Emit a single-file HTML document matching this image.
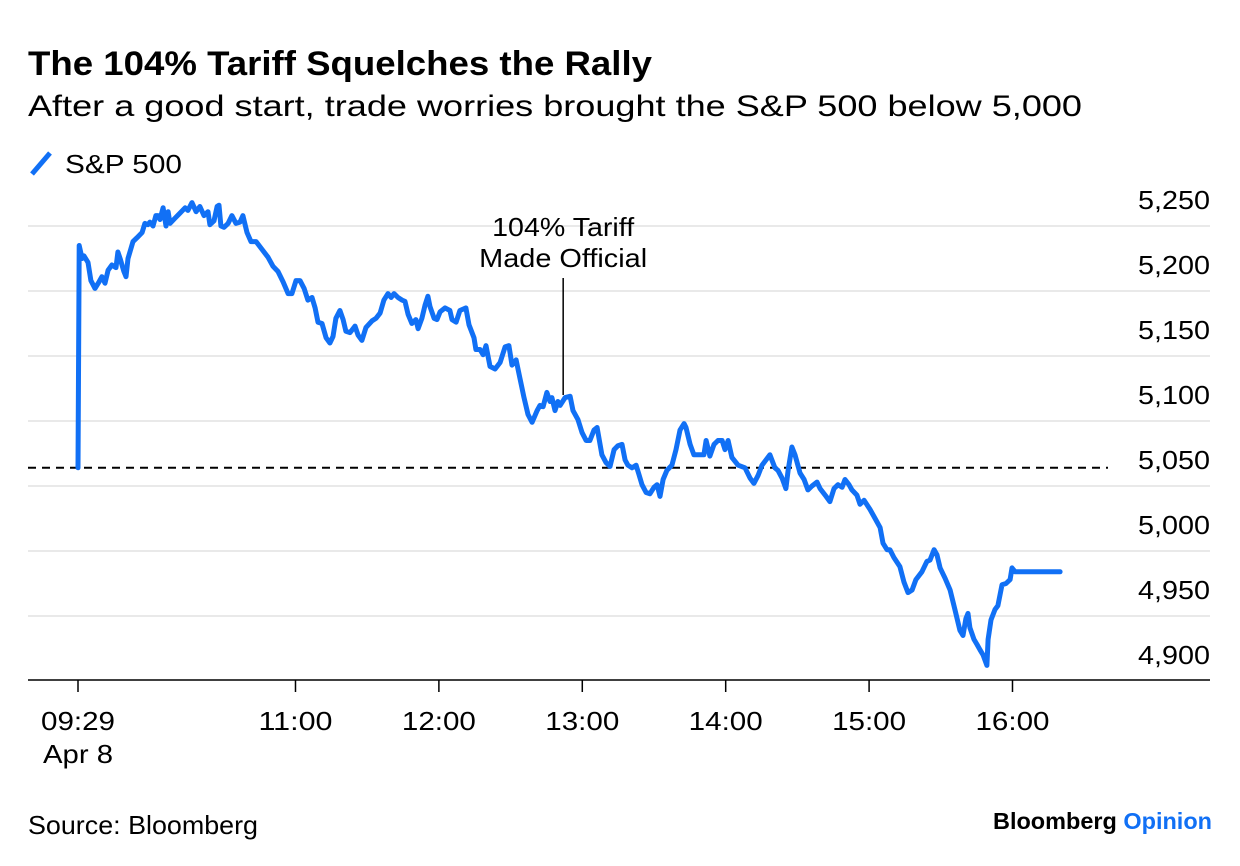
<!DOCTYPE html>
<html><head><meta charset="utf-8"><style>
html,body{margin:0;padding:0;background:#fff;}
svg{display:block;font-family:"Liberation Sans",sans-serif;}
</style></head><body>
<svg id="chart" width="1240" height="866" viewBox="0 0 1240 866" xmlns="http://www.w3.org/2000/svg">
<text x="28" y="75" font-size="34" font-weight="bold" fill="#000" textLength="624" lengthAdjust="spacingAndGlyphs">The 104% Tariff Squelches the Rally</text>
<text x="28" y="116" font-size="30" fill="#000" textLength="1054" lengthAdjust="spacingAndGlyphs">After a good start, trade worries brought the S&amp;P 500 below 5,000</text>
<g>
<line x1="32" y1="174" x2="50" y2="153" stroke="#1170f5" stroke-width="5"/>
<text x="65" y="173" font-size="26" fill="#000" textLength="117" lengthAdjust="spacingAndGlyphs">S&amp;P 500</text>
</g>
<g id="grid"></g>
<g id="yticks"></g>
<line id="refline" x1="28" x2="1108" stroke="#000" stroke-width="2" stroke-dasharray="8,6"/>
<line x1="28" y1="680" x2="1210" y2="680" stroke="#000" stroke-width="1.5"/>
<g id="xticks"></g>
<g>
<line id="annLine" y1="278" stroke="#000" stroke-width="1.5"/>
<text id="ann1" y="236" font-size="26" text-anchor="middle" fill="#000" textLength="142" lengthAdjust="spacingAndGlyphs">104% Tariff</text>
<text id="ann2" y="267" font-size="26" text-anchor="middle" fill="#000" textLength="168" lengthAdjust="spacingAndGlyphs">Made Official</text>
</g>
<path id="series" fill="none" stroke="#1170f5" stroke-width="5" stroke-linejoin="round" stroke-linecap="round"/>
<text x="28" y="834" font-size="26" fill="#000" textLength="230" lengthAdjust="spacingAndGlyphs">Source: Bloomberg</text>
<text x="1212" y="829" font-size="23" font-weight="bold" text-anchor="end" textLength="219" lengthAdjust="spacingAndGlyphs" fill="#000">Bloomberg <tspan fill="#1170f5">Opinion</tspan></text>
</svg>
<script>
// minutes since 09:29
const times = [0,0.5,1.7,2.5,4.2,5.4,7.1,8.8,10,11.3,12.6,14.2,15.9,16.7,17.6,19.2,20.1,20.9,23,24.7,26.8,28,29.3,30.1,31.4,32.6,33.5,34.3,35.6,36.8,37.7,38.5,40.6,42.7,44.8,46,47.7,49.4,51,52.7,54.4,55.2,56.9,58.2,59,59.8,61.1,62.8,64.4,66.1,67.8,69,70.7,72.4,74.5,77,79.5,81.6,83.7,85.8,87.9,89.5,91.2,92.9,94.6,96.2,97.9,99.2,100.4,102.1,103.8,105.4,106.7,107.9,109.6,110.9,112.1,113.8,115.9,117.2,118.8,120.5,123,124.7,126.4,128,129.7,131,132.2,133.9,135.6,136.8,138.1,139.7,141.4,142.3,143.9,145.2,146.4,147.3,149,150.2,151.5,153.6,155.6,156.5,158.2,159.8,162.3,163.6,165.7,166.5,168.2,169.5,170.7,172.4,174.5,176.6,178.7,180.3,181.6,183.3,184.9,186.6,188.3,190,192.1,193.3,194.6,196.2,197.5,198.3,199.6,200.8,201.7,203.8,205.9,207.1,209.2,210.9,212.6,214.2,215.9,217.2,219.2,220.9,222.6,224.3,225.9,227.6,228.9,230.1,231.8,233.5,234.7,236,237.7,239.3,241,242.3,243.5,244.8,246.4,248.5,250.2,251.9,253.6,254.4,256.1,257.7,260.3,261.9,262.8,264.4,266.1,267.8,269.5,270.7,272,273.6,276.2,279.1,281.2,282.8,284.5,286.2,289.5,291.6,292.9,294.6,296.2,297.1,298.7,300,302.1,303.8,305.4,307.1,309.2,310.5,313,314.6,316.3,318,319.7,320.9,322.6,323.8,325.9,327.2,328.9,331.4,333.5,335.6,336.8,338.5,339.7,341.4,343.9,345.6,347.3,349,350.6,353.1,355.2,356.5,358.2,359.4,360.7,362.8,364.9,366.9,369,370.3,371.5,372.4,373.2,374.9,376.2,377.4,378.7,380.3,380.8,382,383.7,384.9,386.6,388.3,390,390.8,392.1,410.9];
const values = [5064,5235,5225,5227,5222,5208,5202,5207,5211,5206,5216,5220,5218,5230,5225,5215,5211,5225,5238,5241,5245,5252,5251,5253,5250,5258,5258,5255,5264,5250,5261,5252,5256,5260,5264,5262,5268,5261,5265,5258,5261,5251,5254,5265,5266,5250,5249,5252,5258,5252,5253,5258,5245,5238,5238,5232,5226,5219,5215,5207,5198,5198,5208,5208,5202,5193,5195,5187,5176,5175,5164,5160,5165,5179,5185,5178,5169,5168,5173,5166,5162,5172,5177,5179,5183,5193,5198,5195,5198,5195,5193,5192,5182,5175,5178,5171,5179,5189,5196,5188,5179,5178,5184,5187,5185,5178,5176,5185,5187,5174,5164,5155,5155,5151,5158,5142,5140,5145,5157,5158,5143,5147,5133,5118,5105,5099,5108,5112,5111,5122,5115,5118,5108,5115,5112,5118,5119,5108,5101,5091,5085,5085,5093,5095,5074,5068,5065,5078,5081,5082,5070,5066,5064,5066,5059,5051,5045,5044,5049,5051,5042,5055,5062,5066,5078,5093,5098,5095,5082,5074,5074,5074,5085,5073,5082,5085,5085,5078,5085,5072,5066,5064,5056,5052,5058,5066,5074,5064,5062,5056,5048,5062,5080,5074,5060,5055,5047,5050,5053,5048,5042,5038,5048,5051,5049,5055,5051,5047,5043,5036,5039,5032,5025,5018,5006,5001,5001,4995,4988,4976,4968,4970,4978,4984,4992,4993,5001,4997,4987,4979,4970,4955,4939,4935,4948,4952,4941,4932,4928,4924,4920,4912,4932,4947,4955,4958,4974,4975,4978,4987,4984,4984];
const yTicks = [5250,5200,5150,5100,5050,5000,4950,4900];
const yTickLabels = ["5,250","5,200","5,150","5,100","5,050","5,000","4,950","4,900"];
const xTickMinutes = [0,91,151,211,271,331,391];
const xTickLabels = ["09:29","11:00","12:00","13:00","14:00","15:00","16:00"];
const previousClose = 5064;
const annotationMinute = 203;

const NS="http://www.w3.org/2000/svg";
function xScale(t){return 78 + t*2.39;}
function yScale(v){return 226 + (5250-v)*1.3;}

const grid=document.getElementById('grid'), yt=document.getElementById('yticks'), xt=document.getElementById('xticks');
yTicks.forEach((v,i)=>{
  if(v>4900){
    const l=document.createElementNS(NS,'line');
    
    
    l.setAttribute('x1',28);l.setAttribute('x2',1210);
    l.setAttribute('y1',yScale(v));l.setAttribute('y2',yScale(v));
    l.setAttribute('stroke','#e9e9e9');l.setAttribute('stroke-width','2');
    grid.appendChild(l);
  }
  const t=document.createElementNS(NS,'text');
  
  
  t.setAttribute('x',1210);t.setAttribute('y',yScale(v)-17);
  t.setAttribute('text-anchor','end');t.setAttribute('font-size','26');
  t.setAttribute('textLength','72');t.setAttribute('lengthAdjust','spacingAndGlyphs');
  t.textContent=yTickLabels[i];
  yt.appendChild(t);
});
xTickMinutes.forEach((m,i)=>{
  const x=xScale(m);
  const l=document.createElementNS(NS,'line');
  
  
  l.setAttribute('x1',x);l.setAttribute('x2',x);l.setAttribute('y1',680);l.setAttribute('y2',692);
  l.setAttribute('stroke','#000');l.setAttribute('stroke-width','1.5');
  xt.appendChild(l);
  const t=document.createElementNS(NS,'text');
  
  
  t.setAttribute('x',x);t.setAttribute('y',730);
  t.setAttribute('text-anchor','middle');t.setAttribute('font-size','26');
  t.setAttribute('textLength','74');t.setAttribute('lengthAdjust','spacingAndGlyphs');
  t.textContent=xTickLabels[i];
  xt.appendChild(t);
});
const d=document.createElementNS(NS,'text');


d.setAttribute('x',xScale(0));d.setAttribute('y',763);
d.setAttribute('text-anchor','middle');d.setAttribute('font-size','26');
d.setAttribute('textLength','70');d.setAttribute('lengthAdjust','spacingAndGlyphs');
d.textContent='Apr 8';
xt.appendChild(d);

const rl=document.getElementById('refline');
rl.setAttribute('y1',yScale(previousClose));rl.setAttribute('y2',yScale(previousClose));

const ax=xScale(annotationMinute);
const al=document.getElementById('annLine');
al.setAttribute('x1',ax);al.setAttribute('x2',ax);al.setAttribute('y2',395);
document.getElementById('ann1').setAttribute('x',ax);
document.getElementById('ann2').setAttribute('x',ax);

document.getElementById('series').setAttribute('d',
  times.map((t,i)=>(i?'L':'M')+xScale(t).toFixed(1)+','+yScale(values[i]).toFixed(1)).join(' '));
</script>
</body></html>
